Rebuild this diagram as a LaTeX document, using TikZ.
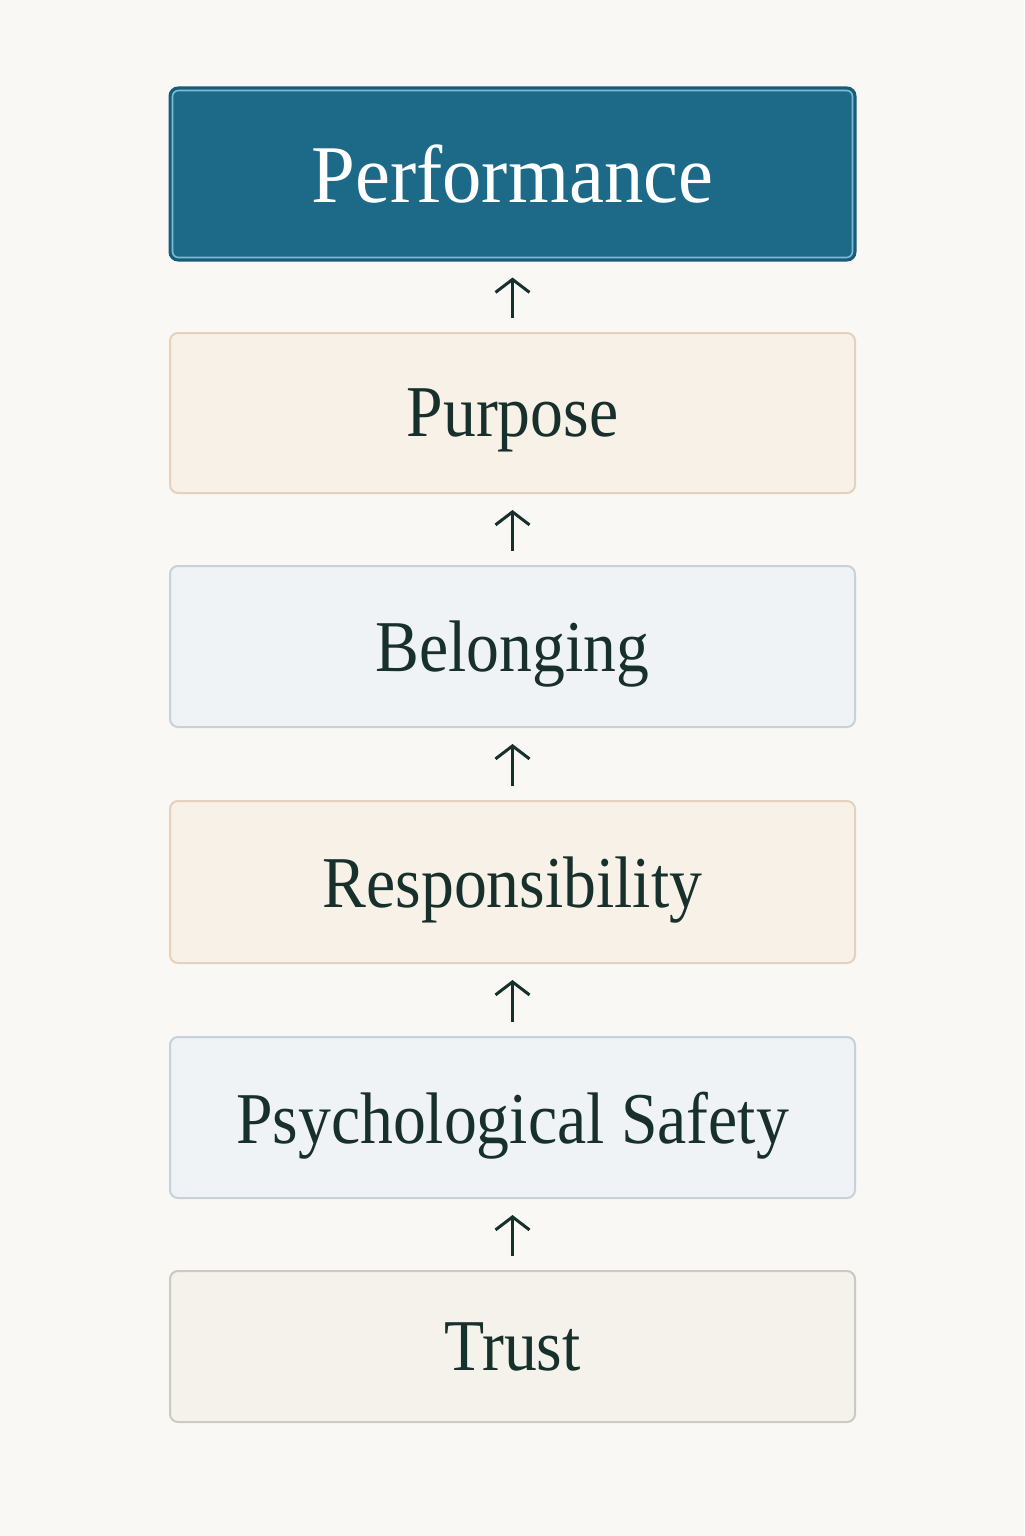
\documentclass[tikz,border=0pt]{standalone}
\usepackage{fontspec}
\setmainfont{Liberation Serif}[FakeStretch=0.9]
\newfontfamily\perffont{Liberation Serif}[FakeStretch=0.96]
\usetikzlibrary{arrows.meta}
\definecolor{paper}{HTML}{F9F8F4}
\definecolor{ink}{HTML}{17302B}
\definecolor{teal}{HTML}{1D6A88}
\definecolor{tealedge}{HTML}{195C78}
\definecolor{teallight}{HTML}{7BBBD6}
\definecolor{sandfill}{HTML}{F8F1E7}
\definecolor{sandedge}{HTML}{E5D2BC}
\definecolor{mistfill}{HTML}{F0F3F5}
\definecolor{mistedge}{HTML}{C7D1DA}
\definecolor{stonefill}{HTML}{F4F2EB}
\definecolor{stoneedge}{HTML}{CACABE}
\begin{document}
\begin{tikzpicture}[x=0.5pt,y=-0.5pt]
\tikzset{tier/.style={rectangle,rounded corners=4pt,line width=1pt,minimum width=342.5pt,text depth=0pt,text=ink,font=\fontsize{36.5}{42}\selectfont},
  sandtier/.style={tier,fill=sandfill,draw=sandedge},
  misttier/.style={tier,fill=mistfill,draw=mistedge},
  stonetier/.style={tier,fill=stonefill,draw=stoneedge},
  lift/.style={-{Straight Barb[length=6.5pt,width=17pt,line width=1.5pt]},line width=1.5pt,ink,shorten <=7pt,shorten >=8pt}}
\fill[paper] (0,0) rectangle (1024,1536);
\node[tier,fill=teal,draw=tealedge,line width=1.5pt,text=white,minimum height=86pt,font=\perffont\fontsize{41}{48}\selectfont] (perf) at (512.5,174) {Performance};
\draw[teallight,line width=0.8pt,rounded corners=3pt] ([shift={(4,4)}]perf.north west) rectangle ([shift={(-4,-4)}]perf.south east);
\node[sandtier,minimum height=80pt] (purpose) at (512.5,413) {Purpose};
\node[misttier,minimum height=80.5pt] (belong) at (512.5,646.5) {Belonging};
\node[sandtier,minimum height=81pt] (resp) at (512.5,882) {Responsibility};
\node[misttier,minimum height=80.5pt] (safety) at (512.5,1117.5) {Psychological Safety};
\node[stonetier,minimum height=75.5pt] (trust) at (512.5,1346.5) {Trust};
% arrows upward
\draw[lift] (purpose) -- (perf);
\draw[lift] (belong) -- (purpose);
\draw[lift] (resp) -- (belong);
\draw[lift] (safety) -- (resp);
\draw[lift] (trust) -- (safety);
\end{tikzpicture}
\end{document}
